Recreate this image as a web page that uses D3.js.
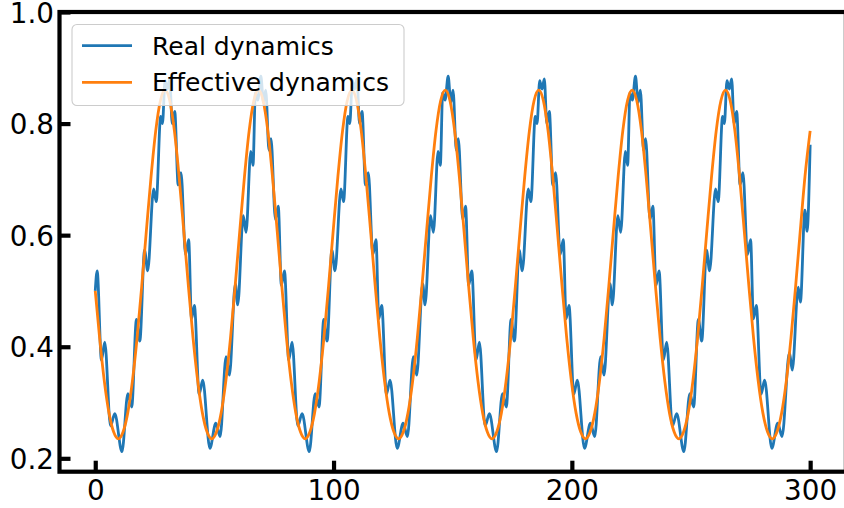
<!DOCTYPE html>
<html>
<head>
<meta charset="utf-8">
<script src="https://cdn.jsdelivr.net/npm/d3@7"></script>
<style>
html, body { margin: 0; padding: 0; background: #fff; }
svg { display: block; font-family: "DejaVu Sans", sans-serif; }
</style>
</head>
<body>
<svg id="chart" width="844" height="508"></svg>
<script>
// values
// effective dynamics, smooth curve
var effX = [0, 1.86, 3.82, 5.78, 7.74,
  9.70, 11.66, 13.62, 15.58, 17.54, 19.50, 21.46, 23.42, 25.38, 27.34, 29.30, 31.26, 33.22, 35.18, 37.14, 39.10, 41.06, 43.02, 44.98, 46.94,
  48.90, 50.86, 52.82, 54.78, 56.74, 58.70, 60.66, 62.62, 64.58, 66.54, 68.50, 70.46, 72.42, 74.38, 76.34, 78.30, 80.26, 82.22, 84.18, 86.14,
  88.10, 90.06, 92.02, 93.98, 95.94, 97.90, 99.86, 101.82, 103.78, 105.74, 107.70, 109.66, 111.62, 113.58, 115.54, 117.50, 119.46, 121.42, 123.38, 125.34,
  127.30, 129.26, 131.22, 133.18, 135.14, 137.10, 139.06, 141.02, 142.98, 144.94, 146.90, 148.86, 150.82, 152.78, 154.74, 156.70, 158.66, 160.62, 162.58, 164.54,
  166.50, 168.46, 170.42, 172.38, 174.34, 176.30, 178.26, 180.22, 182.18, 184.14, 186.10, 188.06, 190.02, 191.98, 193.94, 195.90, 197.86, 199.82, 201.78, 203.74,
  205.70, 207.66, 209.62, 211.58, 213.54, 215.50, 217.46, 219.42, 221.38, 223.34, 225.30, 227.26, 229.22, 231.18, 233.14, 235.10, 237.06, 239.02, 240.98, 242.94,
  244.90, 246.86, 248.82, 250.78, 252.74, 254.70, 256.66, 258.62, 260.58, 262.54, 264.50, 266.46, 268.42, 270.38, 272.34, 274.30, 276.26, 278.22, 280.18, 282.14,
  284.10, 286.06, 288.02, 289.98, 291.94, 293.90, 295.86, 297.82, 300];
var effY = [0.500, 0.415, 0.338, 0.281, 0.247,
  0.235, 0.247, 0.281, 0.338, 0.415, 0.508, 0.608, 0.705, 0.787, 0.841, 0.860, 0.841, 0.787, 0.705, 0.608, 0.508, 0.415, 0.338, 0.281, 0.247,
  0.235, 0.247, 0.281, 0.338, 0.415, 0.508, 0.608, 0.705, 0.787, 0.841, 0.860, 0.841, 0.787, 0.705, 0.608, 0.508, 0.415, 0.338, 0.281, 0.247,
  0.235, 0.247, 0.281, 0.338, 0.415, 0.508, 0.608, 0.705, 0.787, 0.841, 0.860, 0.841, 0.787, 0.705, 0.608, 0.508, 0.415, 0.338, 0.281, 0.247,
  0.235, 0.247, 0.281, 0.338, 0.415, 0.508, 0.608, 0.705, 0.787, 0.841, 0.860, 0.841, 0.787, 0.705, 0.608, 0.508, 0.415, 0.338, 0.281, 0.247,
  0.235, 0.247, 0.281, 0.338, 0.415, 0.508, 0.608, 0.705, 0.787, 0.841, 0.860, 0.841, 0.787, 0.705, 0.608, 0.508, 0.415, 0.338, 0.281, 0.247,
  0.235, 0.247, 0.281, 0.338, 0.415, 0.508, 0.608, 0.705, 0.787, 0.841, 0.860, 0.841, 0.787, 0.705, 0.608, 0.508, 0.415, 0.338, 0.281, 0.247,
  0.235, 0.247, 0.281, 0.338, 0.415, 0.508, 0.608, 0.705, 0.787, 0.841, 0.860, 0.841, 0.787, 0.705, 0.608, 0.508, 0.415, 0.338, 0.281, 0.247,
  0.235, 0.247, 0.281, 0.338, 0.415, 0.508, 0.608, 0.705, 0.787];

// real dynamics: its wiggles digitised as the local peaks and dips
var realX = [0, 0.8, 2.6, 4.0, 6.4, 8.2, 11.2, 13.7, 15.3, 17.3, 18.7, 20.7, 22.0, 24.5, 25.6, 27.45, 28.2, 29.3, 30.3, 31.25,
  32.3, 33.35, 34.8, 36.0, 37.9, 39.2, 40.4, 41.6, 43.6, 45.1, 48.1, 50.6, 52.4, 54.9, 56.3, 58.8, 59.8, 62.1, 63.3, 65.25, 66.2, 67.2, 68.2,
  69.5, 70.6, 71.55, 72.9, 73.75, 75.6, 76.8, 78.1, 79.4, 81.2, 82.6, 85.0, 86.8, 89.8, 92.3, 93.9, 95.9, 97.3, 99.3, 100.6, 103.1, 104.2,
  106.05, 106.8, 107.9, 108.9, 109.85, 110.9, 111.95, 113.4, 114.6, 116.5, 117.8, 119.0, 120.2, 122.2, 123.7, 126.7, 129.2, 131.0, 133.5,
  134.9, 137.4, 138.4, 140.7, 141.9, 143.85, 144.8, 145.8, 146.8,
  148.1, 149.2, 150.15, 151.5, 152.35, 154.2, 155.4, 156.7, 158.0, 159.8, 161.2, 163.6, 165.4, 168.4, 170.9, 172.5, 174.5, 175.9, 177.9,
  179.2, 181.7, 182.8, 184.65, 185.4, 186.5, 187.5, 188.45, 189.5, 190.55, 192.0, 193.2, 195.1, 196.4, 197.6, 198.8, 200.8, 202.3, 205.3,
  207.8, 209.6, 212.1, 213.5, 216.0, 217.0, 219.3, 220.5, 222.45, 223.4, 224.4, 225.4,
  226.7, 227.8, 228.75, 230.1, 230.95, 232.8, 234.0, 235.3, 236.6, 238.4, 239.8, 242.2, 244.0, 247.0, 249.5, 251.1, 253.1, 254.5, 256.5,
  257.8, 260.3, 261.4, 263.25, 264.0, 265.1, 266.1, 267.05, 268.1, 269.15, 270.6, 271.8, 273.7, 275.0, 276.2, 277.4, 279.4, 280.9, 283.9,
  286.4, 288.2, 291.3, 292.5, 295.0, 295.9, 297.8, 298.7, 300];
var realY = [0.500, 0.536, 0.376, 0.408, 0.258, 0.280, 0.212, 0.316, 0.292, 0.449, 0.410, 0.573, 0.536, 0.683, 0.660, 0.813, 0.800, 0.877, 0.862, 0.880,
  0.800, 0.822, 0.690, 0.712, 0.565, 0.592, 0.450, 0.474, 0.315, 0.340, 0.218, 0.263, 0.239, 0.382, 0.349, 0.513, 0.475, 0.635, 0.605, 0.750, 0.725, 0.855, 0.842,
  0.885, 0.838, 0.860, 0.752, 0.773, 0.628, 0.652, 0.510, 0.536, 0.376, 0.408, 0.258, 0.280, 0.212, 0.316, 0.292, 0.449, 0.410, 0.573, 0.536, 0.683, 0.660,
  0.813, 0.800, 0.877, 0.862, 0.880, 0.800, 0.822, 0.690, 0.712, 0.565, 0.592, 0.450, 0.474, 0.315, 0.340, 0.218, 0.263, 0.239, 0.382,
  0.349, 0.513, 0.475, 0.635, 0.605, 0.750, 0.725, 0.855, 0.842,
  0.885, 0.838, 0.860, 0.752, 0.773, 0.628, 0.652, 0.510, 0.536, 0.376, 0.408, 0.258, 0.280, 0.212, 0.316, 0.292, 0.449, 0.410, 0.573,
  0.536, 0.683, 0.660, 0.813, 0.800, 0.877, 0.862, 0.880, 0.800, 0.822, 0.690, 0.712, 0.565, 0.592, 0.450, 0.474, 0.315, 0.340, 0.218,
  0.263, 0.239, 0.382, 0.349, 0.513, 0.475, 0.635, 0.605, 0.750, 0.725, 0.855, 0.842,
  0.885, 0.838, 0.860, 0.752, 0.773, 0.628, 0.652, 0.510, 0.536, 0.376, 0.408, 0.258, 0.280, 0.212, 0.316, 0.292, 0.449, 0.410, 0.573,
  0.536, 0.683, 0.660, 0.813, 0.800, 0.877, 0.862, 0.880, 0.800, 0.822, 0.690, 0.712, 0.565, 0.592, 0.450, 0.474, 0.315, 0.340, 0.218,
  0.263, 0.239, 0.390, 0.358, 0.507, 0.480, 0.645, 0.607, 0.762];

var xTicks = [0, 100, 200, 300];
var yTicks = [0.2, 0.4, 0.6, 0.8, 1.0];
var seriesNames = ["Real dynamics", "Effective dynamics"];
var seriesColors = ["#1f77b4", "#ff7f0e"];

var svg = d3.select("#chart");
var x = d3.scaleLinear().domain([-15, 315]).range([59.5, 845.9]);
var y = d3.scaleLinear().domain([0.176, 1.0]).range([471.7, 12]);

// the two curves
var line = d3.line().curve(d3.curveMonotoneX)
    .x(function (d) { return x(d[0]); })
    .y(function (d) { return y(d[1]); });

var realPts = realX.map(function (v, i) { return [v, realY[i]]; });
var effPts = effX.map(function (v, i) { return [v, effY[i]]; });

svg.append("path").attr("d", line(realPts))
   .attr("fill", "none").attr("stroke", seriesColors[0])
   .attr("stroke-width", 2.8).attr("stroke-linejoin", "round");
svg.append("path").attr("d", line(effPts))
   .attr("fill", "none").attr("stroke", seriesColors[1])
   .attr("stroke-width", 2.8).attr("stroke-linejoin", "round");

// axes, ticks pointing inwards
var yAxis = svg.append("g").attr("transform", "translate(" + x(-15) + ",0)")
    .call(d3.axisLeft(y).tickValues(yTicks).tickFormat(d3.format(".1f"))
          .tickSize(-11).tickPadding(5.5));
var xAxis = svg.append("g").attr("transform", "translate(0," + y(0.176) + ")")
    .call(d3.axisBottom(x).tickValues(xTicks).tickSize(-11).tickPadding(8.5));

[yAxis, xAxis].forEach(function (g) {
  g.select(".domain").remove();
  g.selectAll(".tick line").attr("stroke", "#000").attr("stroke-width", 4.2);
  g.selectAll(".tick text").attr("fill", "#000")
   .style("font-family", "'DejaVu Sans', sans-serif").style("font-size", "27.8px");
});
yAxis.selectAll(".tick text").attr("dy", "0.36em");

// spines
svg.append("rect")
   .attr("x", x(-15)).attr("y", y(1.0))
   .attr("width", x(315) - x(-15)).attr("height", y(0.176) - y(1.0))
   .attr("fill", "none").attr("stroke", "#000").attr("stroke-width", 4.2);

// legend
var legend = svg.append("g").attr("id", "legend");
legend.append("rect")
   .attr("x", 72).attr("y", 24.5).attr("width", 332).attr("height", 81)
   .attr("rx", 5).attr("ry", 5)
   .attr("fill", "#fff").attr("fill-opacity", 0.8)
   .attr("stroke", "#cccccc").attr("stroke-width", 1.1);
seriesNames.forEach(function (name, i) {
  var cy = 45.7 + i * 36.6;
  legend.append("line")
     .attr("x1", 82).attr("x2", 132).attr("y1", cy).attr("y2", cy)
     .attr("stroke", seriesColors[i]).attr("stroke-width", 2.8);
  legend.append("text")
     .attr("x", 152).attr("y", cy + 9)
     .style("font-size", "25px").attr("fill", "#000")
     .text(name);
});
</script>
</body>
</html>
